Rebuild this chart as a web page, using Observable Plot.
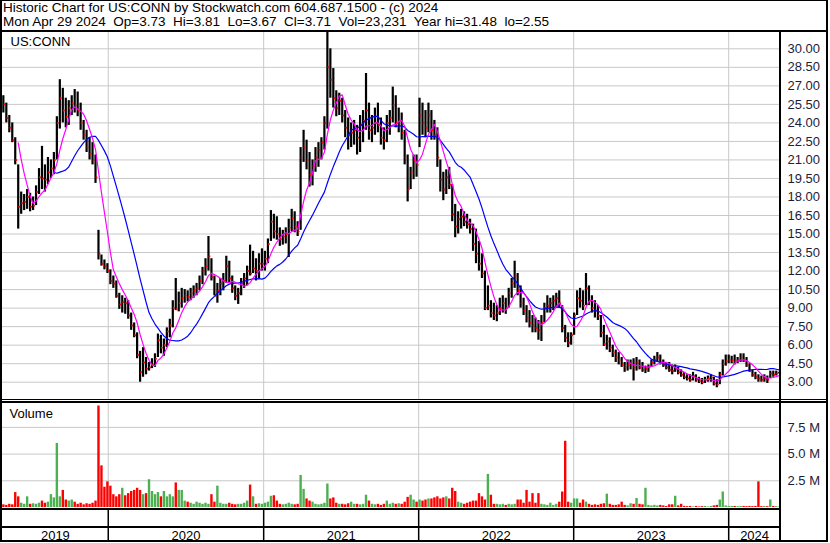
<!DOCTYPE html>
<html><head><meta charset="utf-8">
<script src="https://cdn.jsdelivr.net/npm/d3@7"></script>
<script src="https://cdn.jsdelivr.net/npm/@observablehq/plot@0.6"></script>
<style>
html,body{margin:0;padding:0;background:#fff;}
#chart{position:relative;width:830px;height:543px;font-family:"Liberation Sans",Arial,sans-serif;overflow:hidden;background:#fff;}
.hdr{position:absolute;left:3px;font-size:13.5px;white-space:pre;color:#000;line-height:14px;height:14px;}
.ln{position:absolute;background:#000;}
.panel{position:absolute;left:0;}
</style></head><body><div id="chart"></div>
<script>
// ---------- data (weekly) ----------
const firstWeek = "2019-04-29";
const hi = [
26.2,25.6,24.6,24.0,22.8,20.6,18.4,18.2,18.6,18.3,
18.0,18.9,20.3,22.1,20.6,21.2,21.0,21.6,24.5,27.5,
26.8,26.0,25.8,26.2,26.7,26.5,25.6,24.2,23.4,22.8,
22.4,21.4,15.3,13.3,12.9,12.6,12.1,11.6,11.2,10.2,
10.0,9.8,9.6,8.6,7.8,7.0,5.5,5.8,5.0,4.6,
4.9,5.3,6.9,6.8,6.5,7.4,8.1,9.6,11.4,10.3,
10.6,10.5,10.4,10.6,10.8,11.0,11.6,12.3,13.0,14.8,
13.0,11.6,11.0,11.4,11.8,13.2,12.8,11.6,10.8,10.6,
11.4,11.8,12.4,14.1,13.6,13.0,13.4,13.8,13.6,14.6,
16.9,16.6,16.4,15.5,15.3,15.5,16.2,17.0,16.8,16.0,
22.0,23.4,22.6,21.6,21.0,22.0,22.4,22.8,24.5,31.48,
30.0,28.4,26.6,26.4,26.0,25.0,24.4,24.0,24.2,23.8,
24.6,25.0,28.0,25.6,24.6,25.2,25.6,24.4,23.6,24.6,
25.0,26.9,26.2,25.2,24.8,23.4,21.4,20.4,21.4,21.4,
26.0,25.6,25.0,25.6,25.0,24.2,23.6,21.0,20.0,20.2,
20.4,19.0,17.4,16.8,17.0,16.8,16.6,16.2,15.8,15.4,
14.4,13.4,12.0,10.8,9.6,9.4,9.2,9.8,10.0,9.8,
10.6,11.4,12.8,11.8,10.8,9.8,9.2,8.8,8.4,8.2,
8.0,8.4,9.4,10.0,9.8,10.0,10.2,10.4,9.2,7.6,
7.0,7.0,8.6,10.4,10.6,10.4,11.8,10.8,10.0,9.6,
9.2,8.4,7.6,6.8,6.6,6.0,5.6,5.4,5.0,4.6,
4.8,4.8,4.9,5.0,4.8,4.6,4.3,4.4,4.8,5.1,
5.4,5.2,4.8,4.6,4.6,4.4,4.4,4.2,4.0,3.8,
3.6,3.6,3.8,3.6,3.4,3.3,3.4,3.5,3.6,3.4,
3.2,3.8,4.8,5.2,5.2,5.1,5.2,5.0,5.3,5.3,
5.0,4.5,4.0,3.8,3.6,3.5,3.6,3.5,3.9,3.9,
3.9,3.81];
const lo = [
24.8,24.0,23.2,22.4,20.6,15.4,16.6,16.9,17.0,16.8,
16.9,17.3,18.2,18.6,18.4,19.0,19.5,19.8,21.0,23.5,
24.0,23.6,23.8,24.6,24.8,24.5,23.4,22.6,21.6,21.0,
20.6,19.1,12.9,12.4,12.1,11.8,10.9,10.6,9.8,8.9,
8.6,8.5,8.1,7.2,6.6,4.9,3.0,3.4,3.6,3.9,
4.1,4.2,5.0,5.3,5.1,5.8,6.6,7.4,8.8,8.7,
9.0,9.4,9.5,9.6,9.8,10.0,10.4,10.9,11.6,12.0,
11.2,10.0,9.4,10.0,10.4,11.0,11.0,10.2,9.6,9.3,
10.0,10.6,10.8,11.6,11.8,11.2,11.4,12.0,12.0,12.6,
14.4,14.6,14.5,14.0,14.1,14.2,13.1,15.2,15.1,14.8,
15.3,20.8,20.2,18.8,18.9,20.0,20.4,21.0,21.8,23.5,
26.0,25.2,24.5,24.6,24.0,22.8,21.8,22.0,22.2,21.4,
21.6,22.4,23.4,22.6,22.4,23.0,23.2,22.2,21.8,22.4,
23.0,24.0,23.6,23.2,22.6,20.6,17.6,18.6,19.4,19.6,
22.0,23.0,22.8,23.2,22.6,22.6,20.4,18.4,17.7,18.2,
18.6,16.0,14.7,15.0,15.4,15.6,15.4,15.0,13.6,12.6,
12.0,11.4,8.8,8.8,8.2,8.0,7.9,8.4,8.6,8.5,
9.0,9.8,10.6,10.0,9.0,8.4,7.8,7.4,7.0,7.0,
6.4,6.3,7.8,8.6,8.6,8.8,9.0,9.0,7.0,6.2,
5.8,6.0,6.8,8.4,9.0,8.8,9.2,9.2,8.6,8.2,
8.0,6.6,5.9,5.6,5.4,5.0,4.6,4.4,4.2,3.8,
3.9,4.0,3.1,3.9,4.0,3.8,3.7,3.8,4.2,4.4,
4.6,4.4,4.2,4.0,3.8,3.6,3.8,3.6,3.4,3.2,
3.1,3.0,3.1,3.0,2.9,2.8,2.9,3.0,3.0,2.7,
2.55,2.8,3.5,4.3,4.5,4.5,4.4,4.5,4.6,4.6,
4.2,3.8,3.4,3.2,3.0,3.0,3.0,2.9,3.3,3.4,
3.5,3.67];
const close = [
25.5,24.4,23.6,22.6,21.0,17.2,17.5,17.6,18.0,17.2,
17.3,18.4,19.6,19.5,19.4,20.0,20.3,21.0,24.0,26.0,
25.0,24.5,25.2,25.6,25.4,25.0,24.0,23.0,22.0,21.5,
21.0,19.6,13.4,12.6,12.4,12.0,11.2,11.0,10.0,9.3,
9.5,9.4,8.4,7.6,6.8,5.2,3.8,4.6,4.1,4.2,
4.4,4.9,6.4,5.8,6.0,7.1,7.6,9.0,8.9,9.4,
9.8,10.0,9.9,10.2,10.4,10.6,11.2,12.0,12.4,13.2,
11.5,10.0,10.4,11.0,11.2,12.4,11.4,10.6,10.0,10.2,
11.0,11.4,12.0,11.8,12.2,12.0,12.6,12.6,13.0,14.2,
16.0,15.2,15.0,14.6,14.8,15.0,15.5,16.3,15.6,15.2,
21.2,22.0,21.0,19.8,20.5,21.2,21.8,22.4,24.0,28.5,
27.5,26.0,25.2,25.8,24.6,23.6,23.0,23.2,23.4,22.8,
23.8,24.2,25.0,23.4,23.6,24.0,23.8,22.8,22.6,24.0,
24.4,25.4,24.0,24.2,23.2,21.2,18.6,20.0,21.0,20.6,
24.6,24.0,23.6,24.6,23.4,23.0,21.2,19.4,18.6,19.6,
19.0,16.6,15.6,16.2,16.4,16.0,15.8,15.4,14.2,13.4,
12.6,11.8,9.0,9.2,8.6,8.4,8.6,9.0,9.4,9.0,
10.2,11.0,11.6,10.4,9.4,8.8,8.2,7.8,7.6,7.4,
7.2,7.8,9.0,9.2,9.4,9.6,9.8,9.4,7.4,6.6,
6.2,6.8,8.4,9.8,9.6,9.2,10.6,9.6,9.0,8.8,
8.4,7.0,6.1,6.3,5.8,5.4,5.0,4.8,4.4,4.2,
4.4,4.4,4.2,4.6,4.2,4.0,4.1,4.2,4.6,4.8,
5.0,4.6,4.4,4.2,4.0,3.9,4.1,3.8,3.6,3.4,
3.3,3.2,3.5,3.2,3.1,3.0,3.2,3.3,3.4,2.9,
2.8,3.6,4.5,4.7,4.8,4.8,4.7,4.8,5.0,4.8,
4.4,3.9,3.6,3.4,3.3,3.2,3.3,3.2,3.7,3.6,
3.7,3.71];
// volume in millions of shares
const volume = [
0.25,0.2,0.3,0.25,1.4,1.0,0.4,0.3,1.0,0.3,
0.35,0.3,0.4,0.6,0.4,0.5,1.2,0.9,6.0,1.0,
1.6,0.7,0.6,0.7,0.5,0.3,0.4,0.25,0.35,0.3,
0.4,0.6,9.5,3.9,1.9,2.4,2.0,1.2,1.0,1.2,
1.8,1.1,1.3,1.5,1.6,1.8,1.6,1.2,1.3,2.6,
1.5,1.2,1.4,1.0,1.5,1.0,1.2,1.0,2.3,1.6,
1.6,0.6,0.5,0.4,0.3,0.5,0.4,0.3,0.4,0.3,
1.2,0.5,2.0,0.4,0.3,0.3,0.4,0.3,0.25,0.3,
0.3,0.4,0.6,2.1,1.0,0.3,0.35,0.3,0.4,0.5,
1.05,1.1,0.6,0.3,0.25,0.3,0.4,0.3,0.25,0.3,
3.0,1.7,0.8,0.6,0.5,0.3,0.25,0.3,0.4,2.2,
0.8,0.9,0.4,0.3,0.3,0.25,0.35,0.5,0.3,0.3,
0.25,0.3,1.15,0.6,0.3,0.25,0.3,0.2,0.3,0.6,
0.3,0.4,0.3,0.35,0.3,0.5,0.95,1.15,0.7,0.5,
0.7,0.6,0.7,0.8,0.8,0.9,1.0,0.8,0.9,1.0,
0.8,1.8,1.5,0.5,0.4,0.3,0.4,0.5,0.6,0.6,
1.3,1.0,0.7,3.1,1.15,0.3,0.3,0.25,0.3,0.2,
0.3,0.25,0.3,0.7,0.7,0.4,1.6,0.5,1.3,0.4,
1.3,0.3,0.25,0.2,0.4,0.2,0.3,0.5,1.45,6.2,
0.5,0.4,0.8,0.8,0.4,0.7,0.5,0.3,0.2,0.25,
0.2,0.3,0.35,1.25,0.3,0.2,0.2,0.25,0.5,0.2,
0.15,0.35,0.3,0.85,0.3,0.25,1.8,0.2,0.15,0.2,
0.15,0.2,0.15,0.1,0.25,0.25,1.05,0.15,0.3,0.1,
0.08,0.1,0.05,0.1,0.05,0.08,0.1,0.05,0.1,0.15,
0.2,0.7,1.45,0.15,0.1,0.1,0.1,0.08,0.1,0.1,
0.08,0.1,0.08,0.1,2.4,0.08,0.1,0.08,0.7,0.1,
0.08,0.05];
const priceTicks = [3,4.5,6,7.5,9,10.5,12,13.5,15,16.5,18,19.5,21,22.5,24,25.5,27,28.5,30];
const volTicks = [2.5,5,7.5];
const years = [2019,2020,2021,2022,2023,2024];
const headerLine1 = "Historic Chart for US:CONN by Stockwatch.com 604.687.1500 - (c) 2024";
const headerLine2 = "Mon Apr 29 2024  Op=3.73  Hi=3.81  Lo=3.67  Cl=3.71  Vol=23,231  Year hi=31.48  lo=2.55";
const symbol = "US:CONN";

// ---------- build ----------
const t0 = new Date(firstWeek + "T00:00:00Z");
const rows = hi.map((h, i) => ({
  date: new Date(t0.getTime() + i * 7 * 864e5),
  hi: h, lo: lo[i], close: close[i], vol: volume[i],
  up: i > 0 && close[i] >= close[i - 1]
}));
const xDomain = [new Date("2019-04-27T00:00:00Z"), new Date("2024-05-02T00:00:00Z")];
const yearStarts = years.slice(1).map(y => new Date(Date.UTC(y, 0, 1)));
const yearMids = years.map(y => {
  const a = Math.max(+new Date(Date.UTC(y, 0, 1)), +xDomain[0]);
  const b = Math.min(+new Date(Date.UTC(y + 1, 0, 1)), +xDomain[1]);
  return {year: String(y), date: new Date((a + b) / 2)};
});
const font = {fontFamily: '"Liberation Sans", Arial, sans-serif', fontSize: "13px", background: "transparent", overflow: "visible"};
const grid = "#c8c8c8";
const axisCol = "#1c1c3c";

const chart = document.getElementById("chart");
function add(el, top) { el.classList.add("panel"); el.style.top = top + "px"; chart.appendChild(el); }

// price panel
const price = Plot.plot({
  width: 830, height: 368, marginLeft: 2, marginRight: 50, marginTop: 0, marginBottom: 1,
  style: font,
  x: {type: "utc", domain: xDomain, axis: null},
  y: {domain: [1.6, 31.32], axis: null},
  marks: [
    Plot.gridY(priceTicks, {stroke: grid, strokeOpacity: 1}),
    Plot.ruleX(yearStarts, {stroke: grid, strokeOpacity: 1}),
    Plot.axisY(priceTicks, {anchor: "right", tickSize: 0, tickPadding: 7, tickFormat: d => d.toFixed(2), label: null, fill: axisCol, fontSize: 13}),
    Plot.ruleX(rows, {x: "date", y1: "lo", y2: "hi", stroke: "#000", strokeWidth: 2.2, clip: true}),
    Plot.dot(rows, {x: "date", y: "close", r: 1, fill: "#ff0000", stroke: null, dx: 1}),
    Plot.lineY(rows, Plot.windowY({k: 18, anchor: "end", strict: true}, {x: "date", y: "close", stroke: "#0000ff", strokeWidth: 1.2})),
    Plot.lineY(rows, Plot.windowY({k: 6, anchor: "end", strict: true}, {x: "date", y: "close", stroke: "#ff00ff", strokeWidth: 1.2})),
    Plot.text([symbol], {frameAnchor: "top-left", dx: 8, dy: 9, lineAnchor: "middle", textAnchor: "start", fill: "#000", fontSize: 13})
  ]
});
add(price, 32);

// volume panel
const vol = Plot.plot({
  width: 830, height: 107, marginLeft: 2, marginRight: 50, marginTop: 0, marginBottom: 2,
  style: font,
  x: {type: "utc", domain: xDomain, axis: null},
  y: {domain: [0, 9.83], axis: null},
  marks: [
    Plot.gridY(volTicks, {stroke: grid, strokeOpacity: 1}),
    Plot.ruleX(yearStarts, {stroke: grid, strokeOpacity: 1}),
    Plot.axisY(volTicks, {anchor: "right", tickSize: 0, tickPadding: 7, tickFormat: d => d.toFixed(1) + " M", label: null, fill: axisCol, fontSize: 13}),
    Plot.ruleX(rows, {x: "date", y1: 0, y2: "vol", stroke: d => d.up ? "#4caf50" : "#ff0000", strokeWidth: 2.4}),
    Plot.text(["Volume"], {frameAnchor: "top-left", dx: 7, dy: 11, lineAnchor: "middle", textAnchor: "start", fill: "#000", fontSize: 13})
  ]
});
add(vol, 402);

// year band
const band = Plot.plot({
  width: 830, height: 32, marginLeft: 2, marginRight: 50, marginTop: 0, marginBottom: 0,
  style: font,
  x: {type: "utc", domain: xDomain, axis: null},
  y: {domain: [0, 32], range: [0, 32], axis: null},
  marks: [
    Plot.ruleX(yearStarts, {stroke: "#000", strokeWidth: 1.5}),
    Plot.text(yearMids, {x: "date", y: 25, text: "year", fill: "#000", fontSize: 13, lineAnchor: "middle"})
  ]
});
add(band, 510);

// header
const h1 = document.createElement("div"); h1.className = "hdr"; h1.style.top = "1px"; h1.textContent = headerLine1; chart.appendChild(h1);
const h2 = document.createElement("div"); h2.className = "hdr"; h2.style.top = "15px"; h2.textContent = headerLine2; chart.appendChild(h2);

// frame lines
function line(l, t, w, h) { const d = document.createElement("div"); d.className = "ln"; Object.assign(d.style, {left: l + "px", top: t + "px", width: w + "px", height: h + "px"}); chart.appendChild(d); }
line(0, 0, 828, 1);      // outer top
line(0, 0, 2, 542);      // outer left
line(826, 0, 2, 542);    // outer right
line(0, 30, 828, 2);     // header bottom
line(779, 32, 2, 510);   // plot right edge
line(0, 399, 828, 1);    // price bottom
line(0, 401, 828, 2);    // volume top
line(0, 508, 781, 2);    // volume bottom
line(0, 526, 781, 2);    // band divider
line(0, 540, 828, 2);    // outer bottom
</script></body></html>
